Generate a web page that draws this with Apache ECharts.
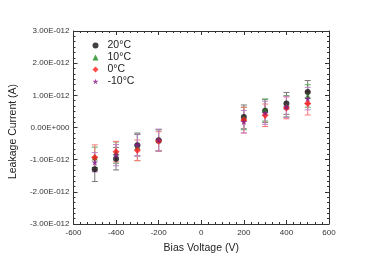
<!DOCTYPE html>
<html><head><meta charset="utf-8">
<script src="https://cdn.jsdelivr.net/npm/echarts@6/dist/echarts.min.js"></script>
<style>html,body{margin:0;padding:0;background:#fff}#c{width:382px;height:270px}</style>
</head><body><div id="c"></div>
<script>
// Bias voltage (V)
var voltages = [-500, -400, -300, -200, 200, 300, 400, 500];
// Leakage current in units of 1E-12 A
var i20 = [-1.30, -0.97, -0.55, -0.40, 0.33, 0.52, 0.75, 1.10];
var e20 = [0.38, 0.35, 0.33, 0.33, 0.37, 0.36, 0.34, 0.36];
var i10 = [-0.93, -0.78, -0.60, -0.40, 0.28, 0.54, 0.66, 0.98];
var e10 = [0.32, 0.33, 0.43, 0.33, 0.35, 0.34, 0.33, 0.35];
var i0 = [-0.93, -0.75, -0.71, -0.43, 0.23, 0.38, 0.61, 0.75];
var e0 = [0.39, 0.32, 0.32, 0.30, 0.40, 0.35, 0.34, 0.36];
var im10 = [-1.08, -0.86, -0.54, -0.39, 0.18, 0.46, 0.64, 0.90];
var em10 = [0.30, 0.33, 0.35, 0.34, 0.35, 0.36, 0.33, 0.35];
var seriesNames = ['20°C', '10°C', '0°C', '-10°C'];

var chart = echarts.init(document.getElementById('c'));
var star = 'path://M50,0 L61,35 L98,35 L68,57 L79,91 L50,70 L21,91 L32,57 L2,35 L39,35 Z';
var defs = [
  {name: seriesNames[0], v: i20, e: e20, color: '#111111', bar: '#777777', symbol: 'circle', size: 6},
  {name: seriesNames[1], v: i10, e: e10, color: '#1a8a1a', bar: '#5aa85a', symbol: 'triangle', size: 6},
  {name: seriesNames[2], v: i0, e: e0, color: '#ff1a1a', bar: '#ff7777', symbol: 'diamond', size: 7},
  {name: seriesNames[3], v: im10, e: em10, color: '#8a1a8a', bar: '#c080c8', symbol: star, size: 7}
];

function yfmt(v) {
  var r = Math.round(v * 100) / 100;
  if (Math.abs(r) < 1e-9) return '0.00E+000';
  return r.toFixed(2) + 'E-012';
}

var series = [];
defs.forEach(function(d) {
  series.push({
    type: 'custom', silent: true, z: 2,
    data: voltages.map(function(x, k){ return [x, d.v[k] - d.e[k], d.v[k] + d.e[k]]; }),
    renderItem: function(params, api) {
      var lo = api.coord([api.value(0), api.value(1)]);
      var hi = api.coord([api.value(0), api.value(2)]);
      var w = 3;
      var st = {stroke: d.bar, lineWidth: 1};
      return {type: 'group', children: [
        {type: 'line', shape: {x1: lo[0], y1: lo[1], x2: hi[0], y2: hi[1]}, style: st},
        {type: 'line', shape: {x1: lo[0]-w, y1: lo[1], x2: lo[0]+w, y2: lo[1]}, style: st},
        {type: 'line', shape: {x1: hi[0]-w, y1: hi[1], x2: hi[0]+w, y2: hi[1]}, style: st}
      ]};
    }
  });
});
defs.forEach(function(d) {
  series.push({
    name: d.name, type: 'scatter', z: 3,
    symbol: d.symbol, symbolSize: d.size,
    itemStyle: {color: d.color},
    data: voltages.map(function(x, k){ return [x, d.v[k]]; })
  });
});

var axisCommon = {
  axisLine: {show: true, onZero: false, lineStyle: {color: '#333', width: 1}},
  axisTick: {show: true, inside: true, length: 4, lineStyle: {color: '#333'}},
  minorTick: {show: true, splitNumber: 6, length: 2, lineStyle: {color: '#333'}},
  splitLine: {show: false}
};

chart.setOption({
  animation: false,
  backgroundColor: '#fff',
  grid: {left: 68, right: 53, top: 31, bottom: 46},
  legend: {
    data: seriesNames, orient: 'vertical', left: 87.5, top: 35,
    itemWidth: 6, itemHeight: 6, itemGap: 1,
    textStyle: {fontFamily: 'Liberation Sans', fontSize: 10.5, color: '#222', padding: [0, 0, 0, 4]}
  },
  xAxis: [
    Object.assign({type: 'value', min: -600, max: 600, interval: 200, position: 'bottom',
      name: 'Bias Voltage (V)', nameLocation: 'middle', nameGap: 19,
      nameTextStyle: {fontFamily: 'Liberation Sans', fontSize: 10.5, color: '#222'},
      axisLabel: {fontFamily: 'Liberation Sans', fontSize: 8, color: '#333', margin: 5}}, axisCommon),
    Object.assign({type: 'value', min: -600, max: 600, interval: 200, position: 'top',
      axisLabel: {show: false}}, axisCommon)
  ],
  yAxis: [
    Object.assign({type: 'value', min: -3, max: 3, interval: 1, position: 'left',
      name: 'Leakage Current (A)', nameLocation: 'middle', nameGap: 45,
      nameTextStyle: {fontFamily: 'Liberation Sans', fontSize: 10.5, color: '#222', padding: [0, 8, 0, 0]},
      axisLabel: {fontFamily: 'Liberation Sans', fontSize: 8, color: '#333', margin: 4, formatter: yfmt}}, axisCommon),
    Object.assign({type: 'value', min: -3, max: 3, interval: 1, position: 'right',
      axisLabel: {show: false}}, axisCommon)
  ],
  series: series
});
</script></body></html>
